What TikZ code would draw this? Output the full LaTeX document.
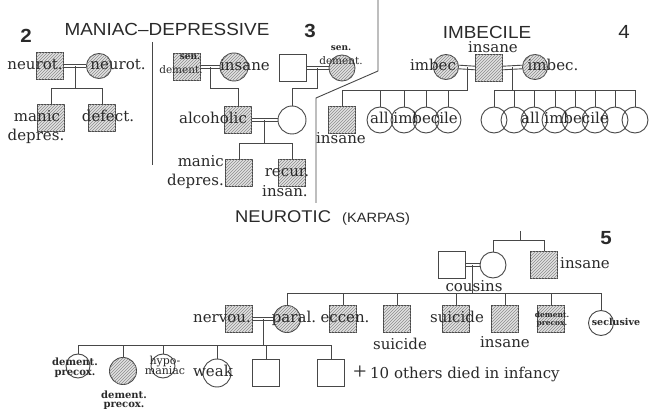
\documentclass[tikz,border=0pt]{standalone}
\usepackage{fontspec}
\setmainfont{DejaVu Serif}
\newfontfamily\labfont{DejaVu Serif}
\newfontfamily\hdfont[FakeStretch=1.08]{Liberation Sans}
\usetikzlibrary{patterns,calc}
\definecolor{linec}{HTML}{474747}
\definecolor{txtc}{HTML}{2A2A2A}
\definecolor{hatbg}{HTML}{E2E2E2}
\definecolor{hatc}{HTML}{8C8C8C}
\newcommand\mymarry[2]{%
  \draw[ln] ([yshift=1.8pt]#1.east) -- ([yshift=1.8pt]#2.west);
  \draw[ln] ([yshift=-1.8pt]#1.east) -- ([yshift=-1.8pt]#2.west);}
\tikzset{
  ln/.style={draw=linec, line width=0.9pt},
  sq/.style={rectangle, draw=linec, line width=0.9pt, minimum size=27pt, inner sep=0pt},
  ci/.style={circle, draw=linec, line width=0.9pt, minimum size=26pt, inner sep=0pt},
  hat/.style={fill=hatbg, postaction={pattern=north east lines, pattern color=hatc}},
  lab/.style={inner sep=0pt, text=txtc, anchor=base, font=\labfont\fontsize{15}{15}\selectfont},
  mid/.style={inner sep=0pt, text=txtc, anchor=base, font=\labfont\fontsize{10.5}{10.5}\selectfont},
  tiny/.style={inner sep=0pt, text=txtc, anchor=base, font=\bfseries\fontsize{9}{9}\selectfont},
  head/.style={inner sep=0pt, text=txtc, font=\hdfont\fontsize{17.5}{17.5}\selectfont},
  num/.style={inner sep=0pt, text=txtc, font=\hdfont\bfseries\fontsize{19}{19}\selectfont}
}
\begin{document}
\begin{tikzpicture}[x=1pt,y=-1pt]
\useasboundingbox[fill=white] (0,0) rectangle (649,409);

% ---------------- panel 2 ----------------
\node[num] (n2) at (26,36) {2};
\node[head] (t2) at (167,29) {MANIAC–DEPRESSIVE};
\node[sq,hat] (p2a) at (50,66) {};
\node[ci,hat,minimum size=25pt] (p2b) at (99,66) {};
\node[sq,hat] (p2c) at (51,118) {};
\node[sq,hat] (p2d) at (102,118) {};
\mymarry{p2a}{p2b}
\coordinate (m2) at ($(p2a.east)!.5!(p2b.west)$);
\coordinate (s2) at (0,88);
\draw[ln] (m2) -- (m2 |- s2);
\draw[ln] (p2c.north |- s2) -- (p2d.north |- s2);
\foreach \c in {p2c,p2d} \draw[ln] (\c.north) -- (\c.north |- s2);
\node[lab] (l2a) at (35,70) {neurot.};
\node[lab] (l2b) at (118,70) {neurot.};
\node[lab] (l2c) at (37,122) {manic};
\node[lab] (l2d) at (36,141) {depres.};
\node[lab] (l2e) at (108,122) {defect.};
\coordinate (d2a) at (152,42);
\coordinate (d2b) at (152,165);
\draw[ln] (d2a) -- (d2b);

% ---------------- panel 3 ----------------
\node[num] (n3) at (310,31) {3};
\node[sq,hat] (s1) at (187,67) {};
\node[ci,hat,minimum size=28pt] (s2n) at (234,67) {};
\node[sq] (s3) at (293,68) {};
\node[ci,hat] (s4) at (342,68) {};
\mymarry{s1}{s2n}
\mymarry{s3}{s4}
\node[sq,hat] (a1) at (238,120) {};
\node[ci,minimum size=28pt] (a2) at (292,120) {};
\mymarry{a1}{a2}
\coordinate (m3a) at ($(s1.east)!.5!(s2n.west)$);
\coordinate (m3b) at ($(s3.east)!.5!(s4.west)$);
\coordinate (s3y) at (0,88);
\draw[ln] (m3a) -- (m3a |- s3y) -- (a1.north |- s3y) -- (a1.north);
\draw[ln] (m3b) -- (m3b |- s3y) -- (a2.north |- s3y) -- (a2.north);
\node[sq,hat] (b1) at (239,173) {};
\node[sq,hat] (b2) at (292,173) {};
\coordinate (m3c) at ($(a1.east)!.5!(a2.west)$);
\coordinate (s3z) at (0,143);
\draw[ln] (m3c) -- (m3c |- s3z);
\draw[ln] (b1.north |- s3z) -- (b2.north |- s3z);
\foreach \c in {b1,b2} \draw[ln] (\c.north) -- (\c.north |- s3z);
\node[tiny] (l3a) at (190,60) {sen.};
\node[mid] (l3b) at (181,74) {dement.};
\node[lab] (l3c) at (245,71) {insane};
\node[tiny] (l3d) at (341,51) {sen.};
\node[mid] (l3e) at (341,65) {dement.};
\node[lab] (l3f) at (213,124) {alcoholic};
\node[lab,anchor=base east] (l3g) at (224,167) {manic};
\node[lab,anchor=base east] (l3h) at (224,186) {depres.};
\node[lab] (l3i) at (287,177) {recur.};
\node[lab] (l3j) at (285,197) {insan.};
\coordinate (d3a) at (378,0);
\coordinate (d3b) at (378,71);
\coordinate (d3c) at (316,98);
\coordinate (d3d) at (316,203);
\draw[ln] (d3a) -- (d3b) -- (d3c) -- (d3d);
\node[head,anchor=base west,font=\hdfont\fontsize{17}{17}\selectfont] (t3) at (235,223) {NEUROTIC};
\node[head,anchor=base west,font=\hdfont\fontsize{13.5}{13.5}\selectfont] (t3b) at (342,223) {(KARPAS)};

% ---------------- panel 4 ----------------
\node[head] (t4) at (487,32) {IMBECILE};
\node[num,font=\hdfont\fontsize{19}{19}\selectfont] (n4) at (624,32) {4};
\node[ci,hat,minimum size=25pt] (i1) at (446,67) {};
\node[sq,hat] (i2) at (489,68) {};
\node[ci,hat,minimum size=25pt] (i3) at (535,67) {};
\mymarry{i1}{i2}
\mymarry{i2}{i3}
\coordinate (m4a) at ($(i1.east)!.5!(i2.west)$);
\coordinate (m4b) at ($(i2.east)!.5!(i3.west)$);
\coordinate (s4y) at (0,90);
\node[sq,hat] (j0) at (342,120) {};
\foreach \n/\x in {j1/380,j2/404,j3/426,j4/448} \node[ci] (\n) at (\x,120) {};
\foreach \n/\x in {k1/494,k2/514,k3/534,k4/555,k5/575,k6/595,k7/615,k8/635} \node[ci] (\n) at (\x,120) {};
\draw[ln] (m4a) -- (m4a |- s4y) -- (j0.north |- s4y);
\draw[ln] (m4b) -- (m4b |- s4y);
\draw[ln] (k1.north |- s4y) -- (k8.north |- s4y);
\foreach \c in {j0,j1,j2,j3,j4,k1,k2,k3,k4,k5,k6,k7,k8} \draw[ln] (\c.north) -- (\c.north |- s4y);
\node[lab] (l4a) at (493,53) {insane};
\node[lab] (l4b) at (433,71) {imbec};
\node[lab] (l4c) at (553,71) {imbec.};
\node[lab] (l4d) at (341,144) {insane};
\node[lab] (l4e) at (414,124) {all imbecile};
\node[lab] (l4f) at (565,124) {all imbecile};

% ---------------- panel 5 ----------------
\node[num] (n5) at (606,238) {5};
\coordinate (top5) at (520,231);
\node[sq] (f1) at (452,265) {};
\node[ci] (f2) at (493,265) {};
\node[sq,hat] (f3) at (544,265) {};
\mymarry{f1}{f2}
\coordinate (s5a) at (0,240);
\draw[ln] (top5) -- (top5 |- s5a);
\draw[ln] (f2.north |- s5a) -- (f3.north |- s5a);
\foreach \c in {f2,f3} \draw[ln] (\c.north) -- (\c.north |- s5a);
\node[sq,hat] (n1) at (239,319) {};
\node[ci,hat,minimum size=27pt] (g1) at (287,319) {};
\node[sq,hat] (g2) at (343,319) {};
\node[sq,hat] (g3) at (397,319) {};
\node[sq,hat] (g4) at (456,319) {};
\node[sq,hat] (g5) at (505,319) {};
\node[sq,hat] (g6) at (551,319) {};
\node[ci,minimum size=25pt] (g7) at (601,323) {};
\mymarry{n1}{g1}
\coordinate (m5) at ($(f1.east)!.5!(f2.west)$);
\coordinate (s5b) at (0,293);
\draw[ln] (m5) -- (m5 |- s5b);
\draw[ln] (g1.north |- s5b) -- (g7.north |- s5b);
\foreach \c in {g1,g2,g3,g4,g5,g6,g7} \draw[ln] (\c.north) -- (\c.north |- s5b);
\node[circle,ln,minimum size=24pt,inner sep=0pt] (h1) at (78,366) {};
\node[ci,hat,minimum size=27pt] (h2) at (123,371) {};
\node[circle,ln,minimum size=24pt,inner sep=0pt] (h3) at (163,366) {};
\node[ci,minimum size=28pt] (h4) at (217,373) {};
\node[sq] (h5) at (266,373) {};
\node[sq] (h6) at (331,373) {};
\coordinate (m6) at ($(n1.east)!.5!(g1.west)$);
\coordinate (s6) at (0,345);
\draw[ln] (m6) -- (m6 |- s6);
\draw[ln] (h1.north |- s6) -- (h6.north |- s6);
\foreach \c in {h1,h2,h3,h4,h5,h6} \draw[ln] (\c.north) -- (\c.north |- s6);
\node[lab,anchor=base west] (l5a) at (560,269) {insane};
\node[lab] (l5b) at (474,291) {cousins};
\node[lab] (l5c) at (222,323) {nervou.};
\node[lab] (l5d) at (294,323) {paral.};
\node[lab] (l5e) at (345,323) {eccen.};
\node[lab] (l5f) at (400,349) {suicide};
\node[lab] (l5g) at (457,323) {suicide};
\node[lab] (l5h) at (505,348) {insane};
\node[tiny,font=\bfseries\fontsize{7.5}{7.5}\selectfont] (l5i) at (552,317) {dement.};
\node[tiny,font=\bfseries\fontsize{7.5}{7.5}\selectfont] (l5j) at (552,326) {precox.};
\node[tiny,font=\bfseries\fontsize{9.5}{9.5}\selectfont] (l5k) at (616,326) {seclusive};
\node[tiny,font=\bfseries\fontsize{10}{10}\selectfont] (l6a) at (75,365) {dement.};
\node[tiny,font=\bfseries\fontsize{10}{10}\selectfont] (l6b) at (75,375) {precox.};
\node[tiny,font=\bfseries\fontsize{10}{10}\selectfont] (l6c) at (124,398) {dement.};
\node[tiny,font=\bfseries\fontsize{10}{10}\selectfont] (l6d) at (124,407) {precox.};
\node[mid,font=\labfont\fontsize{11}{11}\selectfont] (l6e) at (165,364) {hypo-};
\node[mid,font=\labfont\fontsize{11}{11}\selectfont] (l6f) at (165,374) {maniac};
\node[lab] (l6g) at (213,377) {weak};
\node[inner sep=0pt, text=txtc, font=\fontspec{Liberation Serif}\fontsize{24}{24}\selectfont] (l6h) at (360,373) {+};
\node[lab,anchor=base west] (l6i) at (370,378) {10 others died in infancy};
\end{tikzpicture}
\end{document}
